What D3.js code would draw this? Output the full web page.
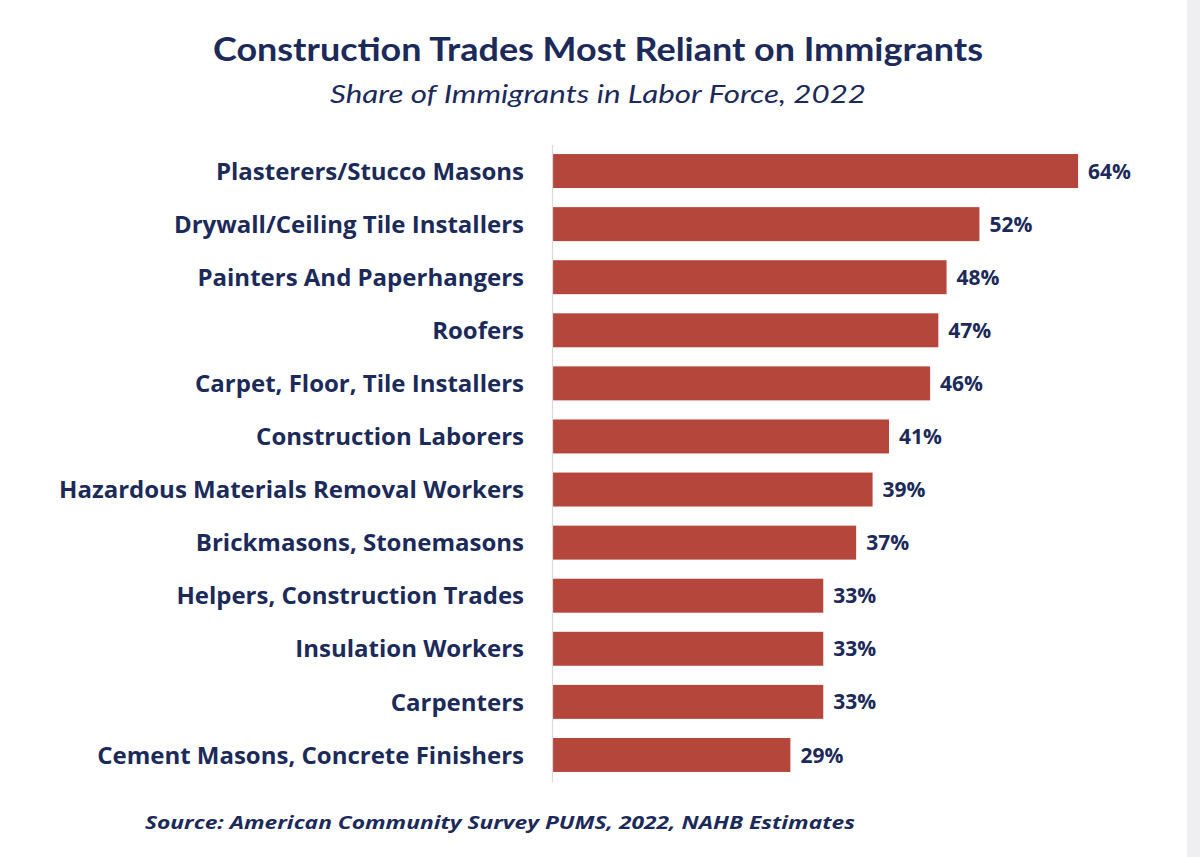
<!DOCTYPE html>
<html>
<head>
<meta charset="utf-8">
<script src="https://cdn.jsdelivr.net/npm/d3@7"></script>
<style>
  html, body { margin: 0; padding: 0; background: #fff; }
  svg { display: block; }
</style>
</head>
<body>
<svg id="chart"></svg>
<script>
// chart values
const trades = [
  "Plasterers/Stucco Masons",
  "Drywall/Ceiling Tile Installers",
  "Painters And Paperhangers",
  "Roofers",
  "Carpet, Floor, Tile Installers",
  "Construction Laborers",
  "Hazardous Materials Removal Workers",
  "Brickmasons, Stonemasons",
  "Helpers, Construction Trades",
  "Insulation Workers",
  "Carpenters",
  "Cement Masons, Concrete Finishers"
];
const shares = [0.64, 0.52, 0.48, 0.47, 0.46, 0.41, 0.39, 0.37, 0.33, 0.33, 0.33, 0.29];

const titleText = "Construction Trades Most Reliant on Immigrants";
const subtitleText = "Share of Immigrants in Labor Force, 2022";
const sourceText = "Source: American Community Survey PUMS, 2022, NAHB Estimates";

const width = 1200, height = 857;
const navy = "#1c2a5a";
const barColor = "#b5463b";

const svg = d3.select("#chart")
  .attr("width", width)
  .attr("height", height);

// light gray strip at right edge
svg.append("rect")
  .attr("x", 1187).attr("y", 0)
  .attr("width", width - 1187).attr("height", height)
  .attr("fill", "#efeff1");

const data = trades.map((t, i) => ({ trade: t, value: shares[i] }));

const x = d3.scaleLinear()
  .domain([0, 0.7])
  .range([552, 552 + 0.7 * 822]);

const y = d3.scaleBand()
  .domain(trades)
  .range([144.5, 781.5])
  .paddingInner(0.36)
  .paddingOuter(0.18);

// titles
svg.append("text")
  .attr("x", 598).attr("y", 61)
  .attr("text-anchor", "middle")
  .attr("font-family", "Lato, sans-serif")
  .attr("font-weight", 700)
  .attr("font-size", 32)
  .attr("fill", navy)
  .attr("textLength", 770)
  .attr("lengthAdjust", "spacingAndGlyphs")
  .text(titleText);

svg.append("text")
  .attr("x", 598).attr("y", 103)
  .attr("text-anchor", "middle")
  .attr("font-family", "Lato, sans-serif")
  .attr("font-style", "italic")
  .attr("font-size", 26)
  .attr("fill", navy)
  .attr("textLength", 536)
  .attr("lengthAdjust", "spacingAndGlyphs")
  .text(subtitleText);

// bars
svg.append("g")
  .selectAll("rect")
  .data(data)
  .join("rect")
  .attr("x", x(0))
  .attr("y", d => y(d.trade))
  .attr("width", d => x(d.value) - x(0))
  .attr("height", y.bandwidth())
  .attr("fill", barColor);

// category axis
const yAxis = d3.axisLeft(y).tickSize(0).tickPadding(28);
const yg = svg.append("g")
  .attr("transform", `translate(${x(0)},0)`)
  .call(yAxis);
yg.select(".domain").attr("stroke", "#d9d9d9").attr("stroke-width", 1.2);
yg.selectAll(".tick text")
  .attr("font-family", "'Open Sans', sans-serif")
  .attr("font-weight", 700)
  .attr("font-size", 24)
  .attr("fill", navy)
  .attr("dy", "0.36em");

// value labels
svg.append("g")
  .selectAll("text")
  .data(data)
  .join("text")
  .attr("x", d => x(d.value) + 10)
  .attr("y", d => y(d.trade) + y.bandwidth() / 2)
  .attr("dy", "0.36em")
  .attr("font-family", "'Open Sans', sans-serif")
  .attr("font-weight", 700)
  .attr("font-size", 21)
  .attr("fill", navy)
  .text(d => d3.format(".0%")(d.value));

// source note
svg.append("text")
  .attr("x", 145).attr("y", 829)
  .attr("font-family", "'Open Sans', sans-serif")
  .attr("font-weight", 700)
  .attr("font-style", "italic")
  .attr("font-size", 18.5)
  .attr("fill", navy)
  .attr("textLength", 710)
  .attr("lengthAdjust", "spacingAndGlyphs")
  .text(sourceText);
</script>
</body>
</html>
